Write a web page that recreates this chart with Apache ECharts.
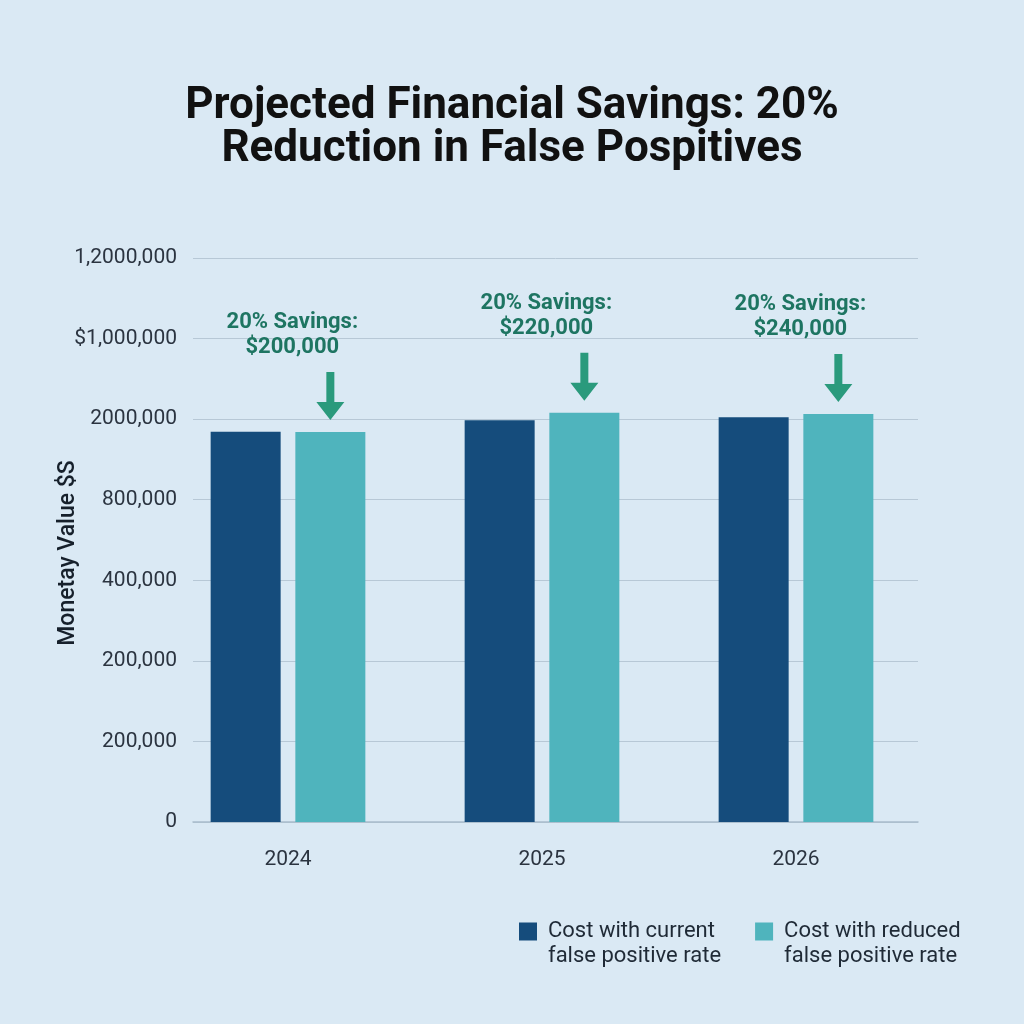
<!DOCTYPE html>
<html>
<head>
<meta charset="utf-8">
<title>Projected Financial Savings</title>
<script src="https://cdn.jsdelivr.net/npm/echarts@6/dist/echarts.min.js"></script>
<style>
  html, body { margin: 0; padding: 0; background: #dae9f4; }
  #chart { width: 1024px; height: 1024px; }
</style>
</head>
<body>
<div id="chart"></div>
<script>
// chart data
var years = ['2024', '2025', '2026'];
var currentCost = [969000, 997000, 1005000];
var reducedCost = [968000, 1016000, 1013000];
var savings = ['$200,000', '$220,000', '$240,000'];
var yTickLabels = ['0', '200,000', '200,000', '400,000', '800,000', '2000,000', '$1,000,000', '1,2000,000'];
var seriesNames = ['Cost with current\nfalse positive rate', 'Cost with reduced\nfalse positive rate'];

var FONT = 'Roboto, "Noto Sans", sans-serif';

var arrowPath = 'path://M10,0 L18,0 L18,30 L28,30 L14,48 L0,30 L10,30 Z';
// square sitting at the top of a taller (invisible) box so it lines up with the first text line
var legendIcon = 'path://M0,0 L18,0 L18,18 L0,18 Z M0,43 L0.01,43 L0,42.99 Z';

var option = {
    backgroundColor: '#dae9f4',
    title: {
        text: 'Projected Financial Savings: 20%\nReduction in False Pospitives',
        left: 'center',
        top: 80,
        textStyle: {
            fontFamily: FONT,
            fontSize: 44,
            fontWeight: 'bold',
            color: '#111111',
            lineHeight: 43
        }
    },
    legend: {
        left: 514,
        top: 914,
        itemWidth: 18,
        itemHeight: 43,
        itemGap: 34,
        icon: legendIcon,
        data: seriesNames,
        textStyle: {
            fontFamily: FONT,
            fontSize: 22,
            color: '#1f2a36',
            lineHeight: 25,
            padding: [0, 0, 0, 6]
        }
    },
    grid: [
        { left: 193, right: 106, top: 258, bottom: 202 },
        { left: 161, right: 101, top: 258, bottom: 202 }
    ],
    xAxis: [
        {
            gridIndex: 0,
            type: 'value',
            min: 0,
            max: 1,
            axisLine: { show: true, onZero: false, lineStyle: { color: '#a9bccb', width: 1.5 } },
            axisTick: { show: false },
            axisLabel: { show: false },
            splitLine: { show: false }
        },
        {
            gridIndex: 1,
            type: 'category',
            data: years,
            axisLine: { show: false },
            axisTick: { show: false },
            axisLabel: {
                margin: 27,
                fontFamily: FONT,
                fontSize: 21,
                color: '#2b3440'
            }
        }
    ],
    yAxis: [
        {
            gridIndex: 0,
            type: 'value',
            min: 0,
            max: 1400000,
            interval: 200000,
            name: 'Monetay Value $S',
            nameLocation: 'middle',
            nameRotate: 90,
            nameGap: 113,
            nameMoveOverlap: false,
            nameTextStyle: {
                fontFamily: FONT,
                fontSize: 23,
                fontWeight: 500,
                color: '#16202b',
                padding: [0, 26, 0, 0]
            },
            axisLine: { show: false },
            axisTick: { show: false },
            axisLabel: {
                margin: 16,
                fontFamily: FONT,
                fontSize: 21,
                color: '#2b3440',
                formatter: function (v) {
                    return yTickLabels[Math.round(v / 200000)];
                }
            },
            splitLine: { lineStyle: { color: '#b7c8d6', width: 1 } }
        },
        {
            gridIndex: 1,
            type: 'value',
            min: 0,
            max: 1400000,
            interval: 200000,
            show: false,
            splitLine: { show: false }
        }
    ],
    series: [
        {
            name: seriesNames[0],
            type: 'bar',
            xAxisIndex: 1,
            yAxisIndex: 1,
            data: currentCost,
            barWidth: 70,
            barGap: '21%',
            itemStyle: { color: '#154c7c' }
        },
        {
            name: seriesNames[1],
            type: 'bar',
            xAxisIndex: 1,
            yAxisIndex: 1,
            data: reducedCost,
            barWidth: 70,
            barGap: '21%',
            itemStyle: { color: '#4fb4bd' },
            markPoint: {
                symbol: arrowPath,
                symbolSize: [28, 48],
                symbolOffset: [0, -36],
                itemStyle: { color: '#2a9a7c' },
                label: {
                    show: true,
                    position: 'top',
                    distance: 12,
                    offset: [-38, 0],
                    fontFamily: FONT,
                    fontSize: 22,
                    fontWeight: 'bold',
                    lineHeight: 25,
                    color: '#1e7562',
                    align: 'center',
                    formatter: function (p) {
                        return '20% Savings:\n' + p.name;
                    }
                },
                data: years.map(function (y, i) {
                    return { name: savings[i], coord: [y, reducedCost[i]] };
                })
            }
        }
    ]
};

var myChart = echarts.init(document.getElementById('chart'));
myChart.setOption(option);
</script>
</body>
</html>
